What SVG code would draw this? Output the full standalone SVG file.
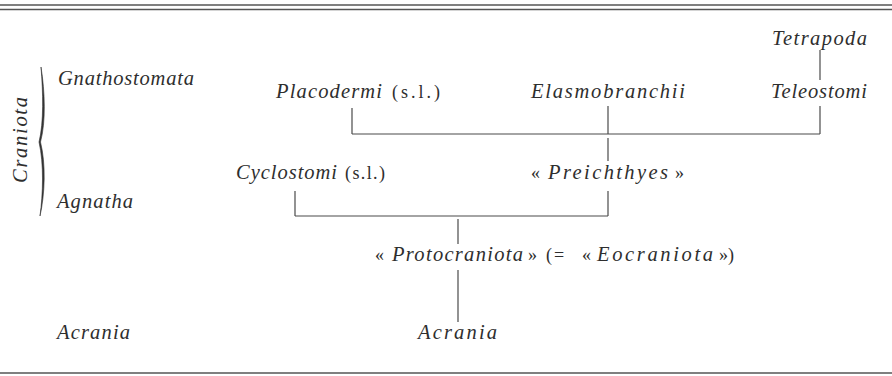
<svg xmlns="http://www.w3.org/2000/svg" width="892" height="376" viewBox="0 0 892 376">
<style>
.t{font-family:"Liberation Serif","DejaVu Serif",serif;font-style:italic;font-size:20.5px;fill:#2e2e2e}
.u{font-family:"Liberation Serif","DejaVu Serif",serif;font-style:normal;font-size:18px;fill:#2e2e2e}
.c line{stroke:#4a4a4a;stroke-width:1.2;fill:none}
.rule{stroke:#555;stroke-width:1.3}
</style>
<rect width="892" height="376" fill="#fff"/>
<line class="rule" x1="0" y1="5" x2="892" y2="5" stroke-width="0.9"/>
<line class="rule" x1="0" y1="9.5" x2="892" y2="9.5"/>
<line class="rule" x1="0" y1="373" x2="892" y2="373"/>

<g id="craniota">
<text class="t" transform="translate(27,140) rotate(-90)" text-anchor="middle" textLength="86" lengthAdjust="spacing">Craniota</text>
<path d="M41,67 C45,92 46,122 40.5,142 C46,164 45,194 40,216 C43,194 44,164 39,142 C44,122 43,92 41,67 Z" fill="#333" stroke="#333" stroke-width="0.6"/>
</g>
<g id="gnathostomata"><text class="t" x="58" y="85" textLength="136" lengthAdjust="spacing">Gnathostomata</text></g>
<g id="agnatha"><text class="t" x="57" y="208" textLength="76" lengthAdjust="spacing">Agnatha</text></g>
<g id="acrania-label"><text class="t" x="57" y="339" textLength="73" lengthAdjust="spacing">Acrania</text></g>

<g id="tetrapoda"><text class="t" x="772" y="45" textLength="95" lengthAdjust="spacing">Tetrapoda</text></g>
<g id="placodermi"><text class="t" x="276" y="98" textLength="106" lengthAdjust="spacing">Placodermi</text><text class="u" x="392" y="98" textLength="48" lengthAdjust="spacing">(s.l.)</text></g>
<g id="elasmobranchii"><text class="t" x="531" y="98" textLength="154" lengthAdjust="spacing">Elasmobranchii</text></g>
<g id="teleostomi"><text class="t" x="771" y="98" textLength="96" lengthAdjust="spacing">Teleostomi</text></g>
<g id="cyclostomi"><text class="t" x="236" y="179" textLength="101" lengthAdjust="spacing">Cyclostomi</text><text class="u" x="345" y="179" textLength="40" lengthAdjust="spacing">(s.l.)</text></g>
<g id="preichthyes"><text class="u" x="531" y="179">«</text><text class="t" x="548" y="179" textLength="120" lengthAdjust="spacing">Preichthyes</text><text class="u" x="675" y="179">»</text></g>
<g id="protocraniota"><text class="u" x="375" y="261">«</text><text class="t" x="392" y="261" textLength="131" lengthAdjust="spacing">Protocraniota</text><text class="u" x="528" y="261">»</text><text class="u" x="546" y="261">(</text><text class="u" x="554" y="261" font-size="22">=</text><text class="u" x="582" y="261">«</text><text class="t" x="597" y="261" textLength="116" lengthAdjust="spacing">Eocraniota</text><text class="u" x="719" y="261">»)</text></g>
<g id="acrania"><text class="t" x="418" y="339" textLength="79" lengthAdjust="spacing">Acrania</text></g>

<g id="connectors" class="c">
<line x1="820" y1="50" x2="820" y2="80"/>
<line x1="352" y1="108" x2="352" y2="134"/>
<line x1="608" y1="106" x2="608" y2="134"/>
<line x1="820" y1="106" x2="820" y2="134"/>
<line x1="352" y1="134" x2="820" y2="134"/>
<line x1="608" y1="138" x2="608" y2="161"/>
<line x1="295" y1="191" x2="295" y2="216"/>
<line x1="608" y1="191" x2="608" y2="216"/>
<line x1="295" y1="216" x2="608" y2="216"/>
<line x1="458" y1="219" x2="458" y2="244"/>
<line x1="458" y1="270" x2="458" y2="322"/>
</g>
</svg>
